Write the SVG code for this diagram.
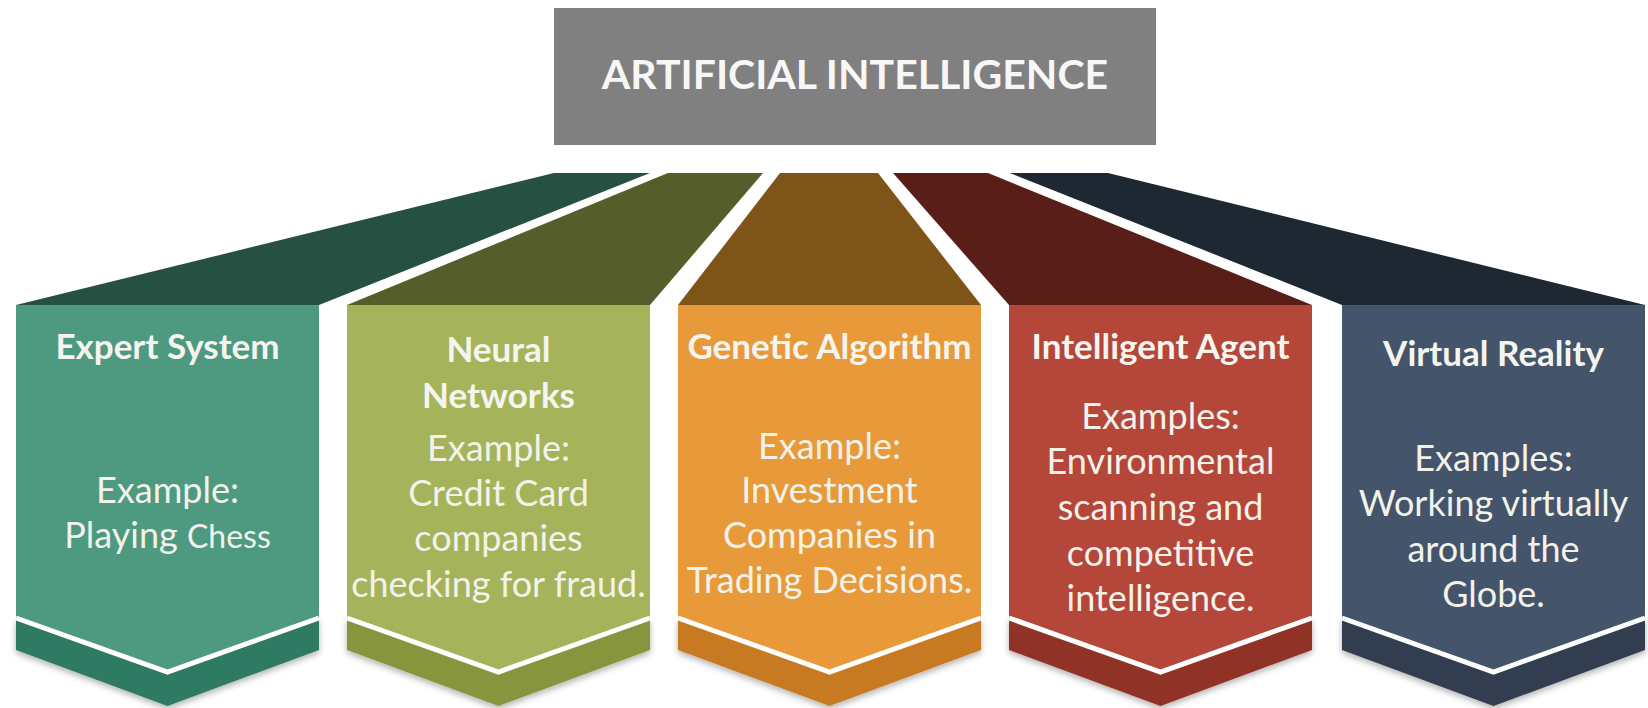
<svg xmlns="http://www.w3.org/2000/svg" width="1648" height="708" viewBox="0 0 1648 708">
<defs>
<style>
.title{font-family:Lato,"Open Sans","Liberation Sans",sans-serif;font-weight:700;font-size:41px;fill:#f7f7f7;text-anchor:middle}
.head{font-family:Lato,"Open Sans","Liberation Sans",sans-serif;font-weight:700;font-size:35px;fill:#f5f5f0;text-anchor:middle}
.body{font-family:Lato,"Open Sans","Liberation Sans",sans-serif;font-weight:400;font-size:36px;fill:#f2f2ea;text-anchor:middle}
.vline{fill:none;stroke:#ffffff;stroke-width:5;stroke-linejoin:miter}
</style>
<filter id="sh" x="-10%" y="-10%" width="120%" height="130%">
<feDropShadow dx="0" dy="3" stdDeviation="3" flood-color="#000" flood-opacity="0.3"/>
</filter>
</defs>
<rect width="1648" height="708" fill="#ffffff"/>

<g id="title">
<rect x="554" y="8" width="602" height="137" fill="#808080"/>
<text class="title" x="855" y="89">ARTIFICIAL INTELLIGENCE</text>
</g>

<g id="connectors">
<polygon points="554,173 650,173 319,305 16,305" fill="#255042"/>
<polygon points="668,173 763,173 650,305 347,305" fill="#555e2a"/>
<polygon points="780,173 878,173 981,305 678,305" fill="#7f5418"/>
<polygon points="893,173 988,173 1312,305 1009,305" fill="#5a1e19"/>
<polygon points="1010,173 1108,173 1645,305 1342,305" fill="#1e2833"/>
</g>

<g id="col1">
<polygon points="16,618 167.5,672 319,618 319,650 167.5,706 16,650" fill="#2f7a62" filter="url(#sh)"/>
<polygon points="16,305 319,305 319,618 167.5,672 16,618" fill="#4e9a80"/>
<polyline class="vline" points="16,618 167.5,672 319,618"/>
<text class="head" x="167.5" y="359">Expert System</text>
<text class="body" x="167.5" y="503">Example:</text>
<text class="body" x="167.5" y="548">Playing <tspan font-size="32">Chess</tspan></text>
</g>

<g id="col2">
<polygon points="347,618 498.5,672 650,618 650,650 498.5,706 347,650" fill="#87963e" filter="url(#sh)"/>
<polygon points="347,305 650,305 650,618 498.5,672 347,618" fill="#a5b45a"/>
<polyline class="vline" points="347,618 498.5,672 650,618"/>
<text class="head" x="498.5" y="362">Neural</text>
<text class="head" x="498.5" y="408">Networks</text>
<text class="body" x="498.5" y="461">Example:</text>
<text class="body" x="498.5" y="506">Credit Card</text>
<text class="body" x="498.5" y="551">companies</text>
<text class="body" x="498.5" y="597">checking for fraud.</text>
</g>

<g id="col3">
<polygon points="678,618 829.5,672 981,618 981,650 829.5,706 678,650" fill="#c87a24" filter="url(#sh)"/>
<polygon points="678,305 981,305 981,618 829.5,672 678,618" fill="#e89a3a"/>
<polyline class="vline" points="678,618 829.5,672 981,618"/>
<text class="head" x="829.5" y="359">Genetic Algorithm</text>
<text class="body" x="829.5" y="459">Example:</text>
<text class="body" x="829.5" y="503">Investment</text>
<text class="body" x="829.5" y="548">Companies in</text>
<text class="body" x="829.5" y="593">Trading Decisions.</text>
</g>

<g id="col4">
<polygon points="1009,618 1160.5,672 1312,618 1312,650 1160.5,706 1009,650" fill="#913228" filter="url(#sh)"/>
<polygon points="1009,305 1312,305 1312,618 1160.5,672 1009,618" fill="#b4463a"/>
<polyline class="vline" points="1009,618 1160.5,672 1312,618"/>
<text class="head" x="1160.5" y="359">Intelligent Agent</text>
<text class="body" x="1160.5" y="429">Examples:</text>
<text class="body" x="1160.5" y="474">Environmental</text>
<text class="body" x="1160.5" y="520">scanning and</text>
<text class="body" x="1160.5" y="566">competitive</text>
<text class="body" x="1160.5" y="611">intelligence.</text>
</g>

<g id="col5">
<polygon points="1342,618 1493.5,672 1645,618 1645,650 1493.5,706 1342,650" fill="#323e50" filter="url(#sh)"/>
<polygon points="1342,305 1645,305 1645,618 1493.5,672 1342,618" fill="#44546a"/>
<polyline class="vline" points="1342,618 1493.5,672 1645,618"/>
<text class="head" x="1493.5" y="366">Virtual Reality</text>
<text class="body" x="1493.5" y="471">Examples:</text>
<text class="body" x="1493.5" y="516">Working virtually</text>
<text class="body" x="1493.5" y="562">around the</text>
<text class="body" x="1493.5" y="607">Globe.</text>
</g>
</svg>
